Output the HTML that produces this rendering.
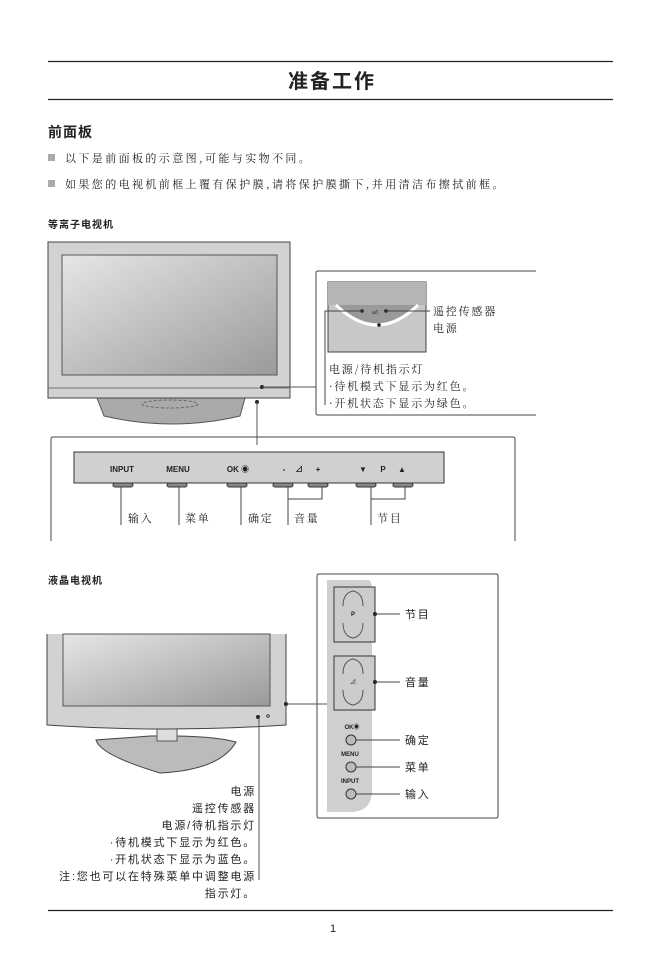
<!DOCTYPE html>
<html><head><meta charset="utf-8"><style>
body{margin:0;background:#fff;width:667px;height:971px;overflow:hidden}
svg{display:block}
text{font-family:"Liberation Sans","Noto Sans CJK SC",sans-serif;fill:#222}
.s{font-family:"Noto Serif CJK SC","Liberation Serif",serif;font-size:11px;letter-spacing:1.8px}
.bl{letter-spacing:2.4px}
.b{font-weight:bold}
</style></head><body>
<svg width="667" height="971" viewBox="0 0 667 971">
<defs>
<linearGradient id="g" x1="0" y1="0" x2="1" y2="1"><stop offset="0" stop-color="#e6e6e6"/><stop offset="1" stop-color="#9a9a9a"/></linearGradient>
</defs>
<line x1="48" y1="61.5" x2="613" y2="61.5" stroke="#222" stroke-width="1.2"/>
<line x1="48" y1="99.5" x2="613" y2="99.5" stroke="#222" stroke-width="1.2"/>
<text x="332" y="88" text-anchor="middle" font-size="20" class="b" letter-spacing="2">准备工作</text>
<text x="48" y="137" font-size="14" class="b" letter-spacing="1">前面板</text>
<rect x="48" y="154" width="7" height="7" fill="#aaa"/>
<rect x="48" y="180" width="7" height="7" fill="#aaa"/>
<text x="65" y="162" class="s bl">以下是前面板的示意图,可能与实物不同。</text>
<text x="65" y="188" class="s bl">如果您的电视机前框上覆有保护膜,请将保护膜撕下,并用清洁布擦拭前框。</text>
<text x="48" y="228" font-size="10" class="b" letter-spacing="1">等离子电视机</text>

<!-- plasma TV -->
<path d="M97 398 L245 398 L240 416 Q172 432 104 416 Z" fill="#aaa" stroke="#555"/>
<ellipse cx="170" cy="404" rx="28" ry="4" fill="none" stroke="#666" stroke-dasharray="3 2"/>
<rect x="48" y="242" width="242" height="156" fill="#d2d2d2" stroke="#444"/>
<rect x="62" y="255" width="215" height="120" fill="url(#g)" stroke="#555"/>
<line x1="48" y1="388" x2="290" y2="388" stroke="#777"/>
<circle cx="262" cy="387" r="2" fill="#222"/>
<line x1="262" y1="387" x2="316" y2="387" stroke="#555"/>
<circle cx="257" cy="402" r="2" fill="#222"/>
<line x1="257" y1="402" x2="257" y2="445" stroke="#555"/>
<!-- callout -->
<path d="M536 271 L318 271 Q316 271 316 273 L316 413 Q316 415 318 415 L536 415" fill="none" stroke="#444"/>
<rect x="328" y="282" width="98" height="70" fill="#c8c8c8" stroke="#444"/>
<rect x="328" y="282" width="98" height="23" fill="#b5b5b5"/>
<path d="M336 305 Q377 345 418 305 Z" fill="#9a9a9a"/>
<path d="M336 305 Q377 345 418 305" fill="none" stroke="#fff" stroke-width="3"/>
<circle cx="362" cy="311" r="1.8" fill="#222"/><circle cx="386" cy="311" r="1.8" fill="#222"/><circle cx="379" cy="325" r="1.8" fill="#222"/>
<text x="372" y="314" font-size="5">ᴑ/I</text>
<line x1="386" y1="311" x2="430" y2="311" stroke="#444"/>
<path d="M362 311 L325 311 L325 405" fill="none" stroke="#444"/>
<text x="433" y="315" class="s">遥控传感器</text>
<text x="433" y="332" class="s">电源</text>
<text x="329" y="373" class="s">电源/待机指示灯</text>
<text x="329" y="390" class="s">·待机模式下显示为红色。</text>
<text x="329" y="407" class="s">·开机状态下显示为绿色。</text>
<!-- button box -->
<path d="M51 541 L51 439 Q51 437 53 437 L513 437 Q515 437 515 439 L515 541" fill="none" stroke="#444"/>
<rect x="74" y="452" width="370" height="31" fill="#d0d0d0" stroke="#333"/>
<g font-size="8" class="b">
<text x="122" y="472" text-anchor="middle">INPUT</text>
<text x="178" y="472" text-anchor="middle">MENU</text>
<text x="238" y="472" text-anchor="middle">OK ◉</text>
<text x="284" y="472" text-anchor="middle">-</text>
<text x="299" y="472" text-anchor="middle">⊿</text>
<text x="318" y="472" text-anchor="middle">+</text>
<text x="363" y="472" text-anchor="middle">▼</text>
<text x="383" y="472" text-anchor="middle">P</text>
<text x="402" y="472" text-anchor="middle">▲</text>
</g>
<g fill="#888" stroke="#333">
<rect x="113" y="483" width="20" height="4" rx="2"/><rect x="167" y="483" width="20" height="4" rx="2"/><rect x="227" y="483" width="20" height="4" rx="2"/>
<rect x="273" y="483" width="20" height="4" rx="2"/><rect x="308" y="483" width="20" height="4" rx="2"/>
<rect x="356" y="483" width="20" height="4" rx="2"/><rect x="393" y="483" width="20" height="4" rx="2"/>
</g>
<g stroke="#444" fill="none">
<line x1="121" y1="487" x2="121" y2="525"/><line x1="179" y1="487" x2="179" y2="525"/><line x1="241" y1="487" x2="241" y2="525"/>
<path d="M288 487 L288 525 M288 499 L322 499 L322 487"/>
<path d="M371 487 L371 525 M371 499 L405 499 L405 487"/>
</g>
<text x="128" y="522" class="s">输入</text><text x="185" y="522" class="s">菜单</text><text x="248" y="522" class="s">确定</text>
<text x="294" y="522" class="s">音量</text><text x="377" y="522" class="s">节目</text>

<!-- LCD -->
<text x="48" y="584" font-size="10" class="b" letter-spacing="1">液晶电视机</text>
<path d="M96 740 Q100 755 160 773 Q220 770 236 742 Q210 735 150 736 Z" fill="#bbb" stroke="#444"/>
<rect x="157" y="727" width="20" height="14" fill="#ddd" stroke="#555"/>
<path d="M47 634 L47 725 Q166 733 286 725 L286 634" fill="#d2d2d2" stroke="#444"/>
<rect x="63" y="634" width="207" height="72" fill="url(#g)" stroke="#555"/>
<circle cx="258" cy="717" r="2" fill="#222"/><circle cx="268" cy="716" r="1.3" fill="none" stroke="#444"/>
<circle cx="286" cy="704" r="2" fill="#222"/>
<line x1="286" y1="704" x2="327" y2="704" stroke="#555"/>
<line x1="259" y1="717" x2="259" y2="880" stroke="#555"/>
<g class="s" text-anchor="end">
<text x="256" y="795">电源</text>
<text x="256" y="812">遥控传感器</text>
<text x="256" y="829">电源/待机指示灯</text>
<text x="256" y="846">·待机模式下显示为红色。</text>
<text x="256" y="863">·开机状态下显示为蓝色。</text>
<text x="256" y="880">注:您也可以在特殊菜单中调整电源</text>
<text x="256" y="897">指示灯。</text>
</g>
<path d="M319 574 L496 574 Q498 574 498 576 L498 816 Q498 818 496 818 L319 818 Q317 818 317 816 L317 576 Q317 574 319 574 Z" fill="none" stroke="#444"/>
<path d="M327 580 L368 580 Q372 580 372 590 L372 790 Q372 812 350 812 L327 812 Z" fill="#cfcfcf"/>
<rect x="334" y="587" width="41" height="55" fill="#ccc" stroke="#333"/>
<rect x="334" y="656" width="41" height="54" fill="#ccc" stroke="#333"/>
<g fill="none" stroke="#555">
<path d="M343 606 Q343 593 353 591 Q363 593 363 606"/><path d="M343 623 Q343 636 353 638 Q363 636 363 623"/>
<path d="M343 674 Q343 661 353 659 Q363 661 363 674"/><path d="M343 690 Q343 703 353 705 Q363 703 363 690"/>
</g>
<text x="353" y="616" font-size="6" text-anchor="middle" class="b">P</text>
<text x="353" y="684" font-size="6" text-anchor="middle">⊿</text>
<circle cx="375" cy="614" r="2" fill="#222"/><line x1="375" y1="614" x2="400" y2="614" stroke="#444"/>
<circle cx="375" cy="682" r="2" fill="#222"/><line x1="375" y1="682" x2="400" y2="682" stroke="#444"/>
<g font-size="6" class="b" text-anchor="middle"><text x="352" y="729">OK◉</text><text x="350" y="756">MENU</text><text x="350" y="783">INPUT</text></g>
<g fill="#bbb" stroke="#333"><circle cx="351" cy="740" r="5"/><circle cx="351" cy="767" r="5"/><circle cx="351" cy="794" r="5"/></g>
<g stroke="#444"><line x1="356" y1="740" x2="400" y2="740"/><line x1="356" y1="767" x2="400" y2="767"/><line x1="356" y1="794" x2="400" y2="794"/></g>
<g class="s"><text x="405" y="618">节目</text><text x="405" y="686">音量</text><text x="405" y="744">确定</text><text x="405" y="771">菜单</text><text x="405" y="798">输入</text></g>

<line x1="48" y1="910.5" x2="613" y2="910.5" stroke="#222" stroke-width="1.2"/>
<text x="333" y="932" font-size="11" text-anchor="middle">1</text>
</svg>
</body></html>
